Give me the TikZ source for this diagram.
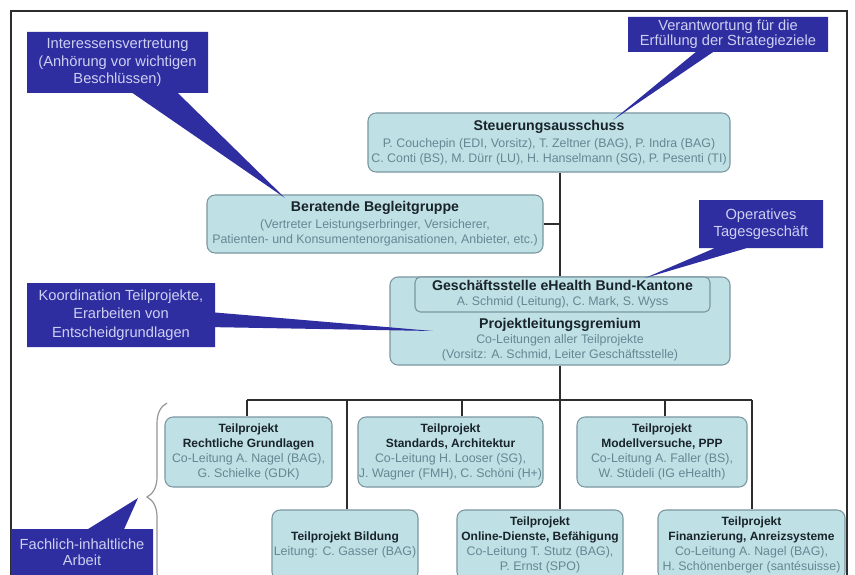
\documentclass[tikz,border=0pt]{standalone}
\usepackage{fontspec}
\setmainfont{Liberation Sans}
\usetikzlibrary{shapes.callouts, decorations.pathreplacing}

% Titulos de las cajas
\newcommand{\tmain}{\color{textoTitulo}\bfseries\fontsize{10.6}{12}\selectfont}
\newcommand{\tsub}{\color{textoTitulo}\bfseries\fontsize{9}{11}\selectfont}

\begin{document}
\begin{tikzpicture}[
    x=0.75pt, y=-0.75pt,
    every node/.style={font=\fontsize{9.3}{11.2}\selectfont},
    % Estilo para las cajas del organigrama
    caja/.style={
        draw=bordeCaja, fill=fondoCaja, line width=0.8pt,
        rounded corners=6pt, align=center, inner sep=0pt,
        text=textoGris
    },
    % Estilo para los globos azules
    globo/.style={
        rectangle callout, fill=azulGlobo, text=textoGlobo,
        align=center, inner sep=0pt,
        font=\fontsize{11}{13}\selectfont
    },
    % Estilo para las lineas de conexion
    enlace/.style={line width=1.1pt, draw=lineaOscura},
    marco/.style={line width=1pt, draw=lineaOscura}
]
    % --- CONFIGURACION DE PARAMETROS ---
    \def\busY{400}
    \def\filaA{452}
    \def\filaB{545}

    % --- DEFINICION DE COLORES ---
    \definecolor{fondoCaja}{RGB}{191,225,230}
    \definecolor{bordeCaja}{RGB}{122,150,158}
    \definecolor{textoTitulo}{RGB}{25,35,42}
    \definecolor{textoGris}{RGB}{100,135,146}
    \definecolor{azulGlobo}{RGB}{46,46,160}
    \definecolor{textoGlobo}{RGB}{205,208,242}
    \definecolor{lineaOscura}{RGB}{45,45,45}
    \definecolor{grisLlave}{RGB}{150,150,150}

    \useasboundingbox (0,0) rectangle (855,574);
    \fill[white] (0,0) rectangle (855,574);

    % 1. Marco
    \draw[marco] (11,590) -- (11,11) -- (847,11) -- (847,590);

    % 2. Cajas superiores
    \node[caja, minimum width=271.5pt, minimum height=44.25pt] (steuer) at (549,142.5)
        {{\tmain Steuerungsausschuss}\\[1.5pt]
         P. Couchepin (EDI, Vorsitz), T. Zeltner (BAG), P. Indra (BAG)\\
         C. Conti (BS), M. Dürr (LU), H. Hanselmann (SG), P. Pesenti (TI)};
    \node[caja, minimum width=252pt, minimum height=43.5pt] (beratend) at (375,224)
        {{\tmain Beratende Begleitgruppe}\\[1.5pt]
         (Vertreter Leistungserbringer, Versicherer,\\
         Patienten- und Konsumentenorganisationen, Anbieter, etc.)};
    \node[caja, minimum width=255pt, minimum height=66pt] (plg) at (560,321) {};
    \node[caja, rounded corners=4pt, minimum width=221.25pt, minimum height=26.25pt] (gs) at (562.5,294.5)
        {{\tmain Geschäftsstelle eHealth Bund-Kantone}\\
         A. Schmid (Leitung), C. Mark, S. Wyss};
    \node[align=center, text=textoGris] (plgtxt) at (560,340)
        {{\tmain Projektleitungsgremium}\\
         Co-Leitungen aller Teilprojekte\\
         (Vorsitz: A. Schmid, Leiter Geschäftsstelle)};

    % 3. Teilprojekte
    \node[caja, minimum width=125.25pt, minimum height=52.5pt] (tp1) at (248.5,\filaA)
        {{\tsub Teilprojekt}\\{\tsub Rechtliche Grundlagen}\\
         Co-Leitung A. Nagel (BAG),\\G. Schielke (GDK)};
    \node[caja, minimum width=138.75pt, minimum height=52.5pt] (tp2) at (450.5,\filaA)
        {{\tsub Teilprojekt}\\{\tsub Standards, Architektur}\\
         Co-Leitung H. Looser (SG),\\J. Wagner (FMH), C. Schöni (H+)};
    \node[caja, minimum width=127.5pt, minimum height=52.5pt] (tp3) at (662,\filaA)
        {{\tsub Teilprojekt}\\{\tsub Modellversuche, PPP}\\
         Co-Leitung A. Faller (BS),\\W. Stüdeli (IG eHealth)};
    \node[caja, minimum width=109.5pt, minimum height=52.5pt] (tp4) at (345,\filaB)
        {{\tsub Teilprojekt Bildung}\\Leitung: C. Gasser (BAG)};
    \node[caja, minimum width=124.5pt, minimum height=52.5pt] (tp5) at (540,\filaB)
        {{\tsub Teilprojekt}\\{\tsub Online-Dienste, Befähigung}\\
         Co-Leitung T. Stutz (BAG),\\P. Ernst (SPO)};
    \node[caja, minimum width=140.25pt, minimum height=52.5pt] (tp6) at (751.5,\filaB)
        {{\tsub Teilprojekt}\\{\tsub Finanzierung, Anreizsysteme}\\
         Co-Leitung A. Nagel (BAG),\\H. Schönenberger (santésuisse)};

    % 4. Conexiones
    \coordinate (busL) at (247,\busY);
    \coordinate (busR) at (752,\busY);
    \draw[enlace] (plg.north) -- (plg.north |- steuer.south);
    \draw[enlace] (beratend.east) -- (beratend.east -| plg.north);
    \draw[enlace] (plg.south) -- (plg.south |- tp5.north);
    \draw[enlace] (busL) -- (busR);
    \draw[enlace] (busL) -- (busL |- tp1.north);
    \draw[enlace] ([xshift=8.6pt]tp2.north) -- ([xshift=8.6pt]tp2.north |- busL);
    \draw[enlace] ([xshift=2.25pt]tp3.north) -- ([xshift=2.25pt]tp3.north |- busL);
    \draw[enlace] ([xshift=1.5pt]tp4.north) -- ([xshift=1.5pt]tp4.north |- busL);
    \draw[enlace] (busR) -- (busR |- tp6.north);

    % 5. Llave
    \draw[grisLlave, line width=0.9pt, decorate, decoration={brace, amplitude=15pt}]
        (167,591) -- (167,403);

    % 6. Globos
    \coordinate (puntaInteres) at (285,198);
    \coordinate (puntaVerant) at (613,120);
    \coordinate (puntaOper) at (645,278);
    \coordinate (puntaKoord) at (433,331);
    \coordinate (puntaFach) at (138,498);
    \node[globo, minimum width=135.75pt, minimum height=45.75pt,
          callout absolute pointer={(puntaInteres)}, callout pointer width=34pt] (interes) at (117.5,62.5)
        {Interessensvertretung\\(Anhörung vor wichtigen\\Beschlüssen)};
    \node[globo, minimum width=150pt, minimum height=26.25pt, font=\fontsize{11}{11.5}\selectfont,
          callout absolute pointer={(puntaVerant)}, callout pointer width=13pt] (verant) at (728,34.5)
        {Verantwortung für die\\Erfüllung der Strategieziele};
    \node[globo, minimum width=93pt, minimum height=36pt,
          callout absolute pointer={(puntaOper)}, callout pointer width=24pt] (operativ) at (761,224)
        {Operatives\\Tagesgeschäft};
    \node[globo, minimum width=141pt, minimum height=48pt, font=\fontsize{11}{13.8}\selectfont,
          callout absolute pointer={(puntaKoord)}, callout pointer width=11pt] (koord) at (121,315)
        {Koordination Teilprojekte,\\Erarbeiten von\\Entscheidgrundlagen};
    \node[globo, minimum width=106.5pt, minimum height=35.25pt, font=\fontsize{11}{12}\selectfont,
          callout absolute pointer={(puntaFach)}, callout pointer width=27pt] (fachlich) at (82,552.5)
        {Fachlich-inhaltliche\\Arbeit};

\end{tikzpicture}
\end{document}
